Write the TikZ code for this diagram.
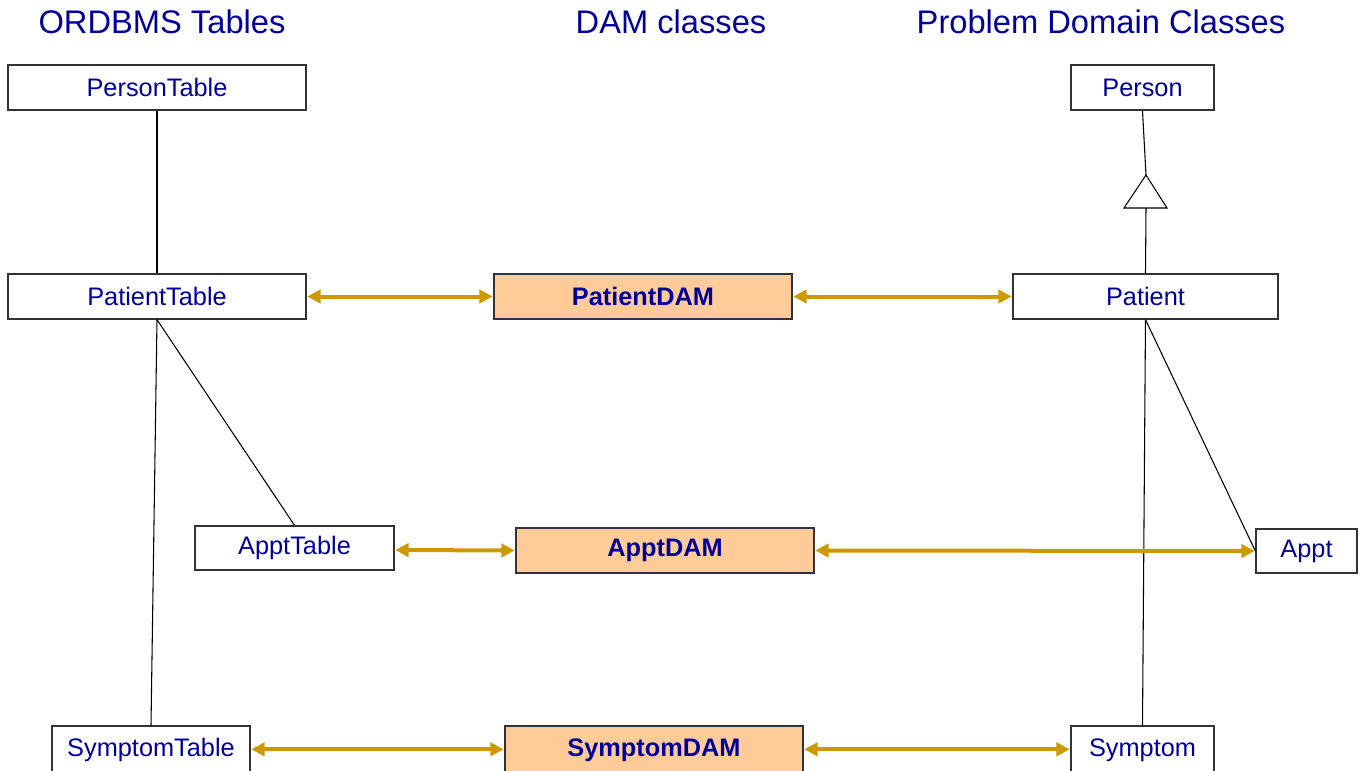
\documentclass[tikz,border=0pt]{standalone}
\usepackage{fontspec}
\setmainfont{Liberation Sans}
\usetikzlibrary{arrows.meta}
\definecolor{txtblue}{RGB}{0,0,153}
\definecolor{peach}{RGB}{255,204,153}
\definecolor{gold}{RGB}{204,153,0}
\tikzset{
  wh/.style 2 args={minimum width=#1*0.75pt, minimum height=#2*0.75pt},
  box/.style={draw=black!80, line width=1pt, fill=white, inner sep=0pt, text=txtblue, font=\fontsize{19}{22}\selectfont},
  dam/.style={box, fill=peach, font=\fontsize{19}{22}\selectfont\bfseries},
  title/.style={text=txtblue, font=\fontsize{24.5}{28}\selectfont, inner sep=0pt},
  link/.style={draw=black, line width=0.8pt},
  biarrow/.style={draw=gold, line width=3pt, {Triangle[length=10pt,width=10pt]}-{Triangle[length=10pt,width=10pt]}, shorten <=0.5pt, shorten >=0.5pt}
}
\begin{document}
\begin{tikzpicture}[x=0.75pt,y=-0.75pt]
\useasboundingbox[fill=white] (0,0) rectangle (1365,771);
% titles
\node[title] (t1) at (162,22) {ORDBMS Tables};
\node[title] (t2) at (671,22) {DAM classes};
\node[title] (t3) at (1101,22) {Problem Domain Classes};
% left column
\node[box, wh={298}{45}] (persontable) at (157,87.5) {PersonTable};
\node[box, wh={298}{45}] (patienttable) at (157,296.5) {PatientTable};
\node[box, wh={199}{44}] (appttable) at (294.5,548) {ApptTable};
\node[box, wh={198}{48}] (symptomtable) at (151,750) {SymptomTable};
% DAM column
\node[dam, wh={298}{45}] (patientdam) at (643,296.5) {PatientDAM};
\node[dam, wh={298}{45}] (apptdam) at (665,550.5) {ApptDAM};
\node[dam, wh={298}{48}] (symptomdam) at (654,750) {SymptomDAM};
% right column
\node[box, wh={143}{45}] (person) at (1142.5,87.5) {Person};
\node[box, wh={265}{45}] (patient) at (1145.5,296.5) {Patient};
\node[box, wh={101}{44}] (appt) at (1306.5,551) {Appt};
\node[box, wh={143}{48}] (symptom) at (1142.5,750) {Symptom};
% table links
\draw[link] (persontable.south) -- (patienttable.north);
\draw[link] (patienttable.south) -- (appttable.north);
\draw[link] (patienttable.south) -- (symptomtable.north);
% generalization
\coordinate (apex) at (1146,175);
\coordinate (base) at (1146,208);
\draw[link] (person.south) -- (apex);
\draw[link, fill=white] (apex) -- (1124,208) -- (1167,208) -- cycle;
\draw[link] (base) -- (patient.north);
% class links
\draw[link] (patient.south) -- (appt.west);
\draw[link] (patient.south) -- (symptom.north);
% arrows
\draw[biarrow] ([yshift=-1.5pt]appttable.east) -- (apptdam.west);
\draw[biarrow] (patienttable.east) -- (patientdam.west);
\draw[biarrow] (patientdam.east) -- (patient.west);
\draw[biarrow] (apptdam.east) -- (appt.west);
\draw[biarrow] ([yshift=0.5pt]symptomtable.east) -- ([yshift=0.5pt]symptomdam.west);
\draw[biarrow] ([yshift=0.5pt]symptomdam.east) -- ([yshift=0.5pt]symptom.west);
\end{tikzpicture}
\end{document}
